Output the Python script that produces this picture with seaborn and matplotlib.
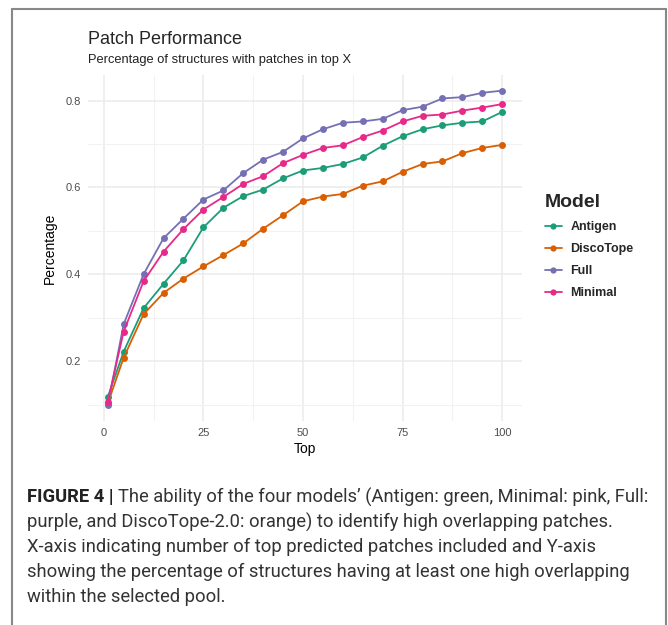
import numpy as np
import pandas as pd
import matplotlib
matplotlib.use("Agg")
import matplotlib.pyplot as plt
from matplotlib.lines import Line2D
from matplotlib.ticker import MultipleLocator
import seaborn as sns

# ============================================
# Data
# ============================================
top = [1, 5, 10, 15, 20, 25, 30, 35, 40, 45, 50,
       55, 60, 65, 70, 75, 80, 85, 90, 95, 100]

antigen = [0.117, 0.222, 0.322, 0.378, 0.432, 0.508, 0.553, 0.580, 0.595, 0.621, 0.639,
           0.645, 0.654, 0.669, 0.696, 0.718, 0.734, 0.743, 0.749, 0.752, 0.774]
discotope = [0.102, 0.208, 0.308, 0.357, 0.390, 0.418, 0.444, 0.471, 0.505, 0.536, 0.568,
             0.579, 0.585, 0.604, 0.614, 0.636, 0.654, 0.660, 0.679, 0.691, 0.698]
full = [0.098, 0.285, 0.400, 0.483, 0.528, 0.572, 0.593, 0.633, 0.664, 0.682, 0.713,
        0.734, 0.749, 0.752, 0.758, 0.778, 0.786, 0.805, 0.808, 0.818, 0.823]
minimal = [0.106, 0.268, 0.384, 0.452, 0.504, 0.549, 0.578, 0.608, 0.626, 0.656, 0.675,
           0.691, 0.697, 0.716, 0.731, 0.752, 0.765, 0.768, 0.777, 0.784, 0.792]

models = ["Antigen", "DiscoTope", "Full", "Minimal"]
colors = ["#1B9E77", "#D95F02", "#7570B3", "#E7298A"]

df = pd.DataFrame({
    "Top": top * 4,
    "Percentage": antigen + discotope + full + minimal,
    "Model": np.repeat(models, len(top)),
})

caption_lines = [
    "The ability of the four models\u2019 (Antigen: green, Minimal: pink, Full:",
    "purple, and DiscoTope-2.0: orange) to identify high overlapping patches.",
    "X-axis indicating number of top predicted patches included and Y-axis",
    "showing the percentage of structures having at least one high overlapping",
    "within the selected pool.",
]

# ============================================
# Figure
# ============================================
sns.set_style("white")
plt.rcParams["font.family"] = ["Liberation Sans", "DejaVu Sans"]

W, H = 668, 625
fig = plt.figure(figsize=(W / 100, H / 100), dpi=100)
fig.patch.set_facecolor("white")

def fx(px):
    return px / W

def fy(py):
    return 1 - py / H

# panel (pixel box)
left, right, ptop, pbot = 88, 522, 75, 421
ax = fig.add_axes([fx(left), fy(pbot), (right - left) / W, (pbot - ptop) / H])

sns.lineplot(data=df, x="Top", y="Percentage", hue="Model", hue_order=models,
             palette=dict(zip(models, colors)), marker="o", markersize=5,
             markeredgewidth=0, linewidth=1.3, ax=ax)

ax.set_xlim(-3.95, 104.95)
ax.set_ylim(0.062, 0.859)
ax.xaxis.set_major_locator(MultipleLocator(25))
ax.xaxis.set_minor_locator(MultipleLocator(12.5))
ax.yaxis.set_major_locator(MultipleLocator(0.2))
ax.yaxis.set_minor_locator(MultipleLocator(0.1))
ax.set_yticks([0.2, 0.4, 0.6, 0.8])
ax.set_yticklabels(["0.2", "0.4", "0.6", "0.8"])
ax.grid(which="major", color="#EBEBEB", linewidth=1.1)
ax.grid(which="minor", color="#F2F2F2", linewidth=0.8)
ax.set_axisbelow(True)
for s in ax.spines.values():
    s.set_visible(False)
ax.tick_params(which="both", length=0, labelsize=8, labelcolor="#4D4D4D", pad=5)

ax.set_xlabel("Top", fontsize=10, color="black", labelpad=3)
ax.set_ylabel("Percentage", fontsize=10, color="black", labelpad=6)

# legend
handles = [Line2D([0], [0], color=c, marker="o", markersize=4.5,
                  markeredgewidth=0, linewidth=1.3) for c in colors]
leg = ax.legend(handles, models, title="Model", frameon=False,
                loc="upper left", bbox_to_anchor=(fx(534), fy(183)),
                bbox_transform=fig.transFigure, handlelength=1.3,
                handletextpad=0.7, labelspacing=0.8,
                prop={"weight": "bold", "size": 9})
leg.get_title().set_fontsize(14)
leg.get_title().set_fontweight("bold")
leg._legend_box.align = "left"

# titles
fig.text(fx(88), fy(40), "Patch Performance", fontsize=13, va="center", ha="left")
fig.text(fx(88), fy(60), "Percentage of structures with patches in top X",
         fontsize=9.25, va="center", ha="left", color="#222222")

# outer frame
for xs, ys in [([12, 666], [9, 9]), ([12, 12], [9, 640]), ([666, 666], [9, 640])]:
    fig.add_artist(Line2D([fx(v) for v in xs], [fy(v) for v in ys],
                          color="#888888", linewidth=1.5))

# caption
cap_font = ["Roboto", "Liberation Sans", "DejaVu Sans"]
cap_size = 13.2
fig.canvas.draw()
r = fig.canvas.get_renderer()
bold = fig.text(fx(27), fy(497), "FIGURE 4 |", fontsize=cap_size, fontweight="bold",
                family=cap_font, va="center", ha="left", color="#222222")
bb = bold.get_window_extent(renderer=r)
fig.text(bb.x1 / W + fx(5), fy(497), caption_lines[0], fontsize=cap_size,
         family=cap_font, va="center", ha="left", color="#333333")
for i, line in enumerate(caption_lines[1:], start=1):
    fig.text(fx(27), fy(497 + 25 * i), line, fontsize=cap_size,
             family=cap_font, va="center", ha="left", color="#333333")

fig.savefig("out.png", dpi=100)
